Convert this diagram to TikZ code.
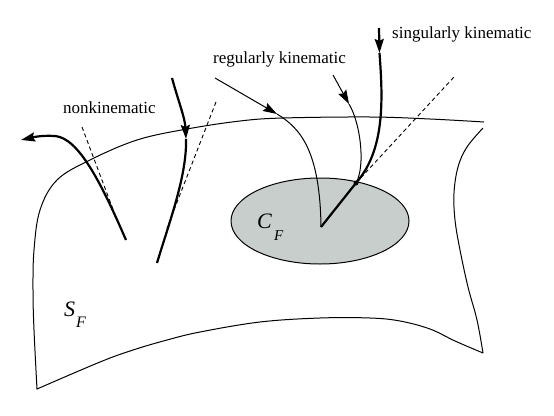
\documentclass[tikz,border=0pt]{standalone}
\usepackage{fontspec}
\setmainfont{Liberation Serif}
\usetikzlibrary{arrows.meta,shapes.geometric}
\definecolor{discgray}{RGB}{199,206,204}
\begin{document}
\begin{tikzpicture}[x=1pt,y=-1pt,
  thinline/.style={line width=1pt},
  thickcurve/.style={line width=2.2pt},
  guide/.style={line width=0.9pt, dash pattern=on 4pt off 3pt},
  tipped/.style={-{Stealth[length=14pt,width=9pt,inset=2pt]}},
  lbl/.style={font=\fontsize{17}{20}\selectfont, inner sep=0pt, anchor=base west}]
\useasboundingbox (0,0) rectangle (554,415);

% disc C_F
\node[ellipse, draw, line width=1pt, fill=discgray, minimum width=178pt, minimum height=86pt, inner sep=0pt] (disc) at (320,221) {};

% surface S_F
\draw[thinline] plot[smooth, tension=0.6] coordinates {(483,353) (455,341) (430,329) (400,321) (370,318) (320,318) (260,322) (200,332) (167,340) (133,350) (100,362) (37,389)}
  -- plot[smooth, tension=0.6] coordinates {(37,389) (34,330) (33,290) (34,250) (40,210) (57,180) (90,160) (137,140) (187,129) (240,121) (283,118) (370,117) (430,119) (484,122)};
\draw[thinline] plot[smooth, tension=0.6] coordinates {(483,128) (467,147) (458,167) (454,193) (455,220) (460,250) (468,287) (477,320) (483,353)};

% key points
\coordinate (n1end) at (126,240);
\coordinate (n1mid) at (55,136);
\coordinate (n1tip) at (21,140);
\coordinate (n2start) at (172,78);
\coordinate (n2tip) at (186,139);
\coordinate (n2end) at (157,263);
\coordinate (r1start) at (215,78);
\coordinate (r1tip) at (277,114);
\coordinate (cusp) at (321,227);
\coordinate (r2start) at (333,75);
\coordinate (r2tip) at (349,104);
\coordinate (sstart) at (379,28);
\coordinate (stip) at (379.5,53);
\coordinate (touch) at (356,183);
\coordinate (d1a) at (82,127);
\coordinate (d1b) at (114,212);
\coordinate (d2a) at (216,102);
\coordinate (d2b) at (167,228);
\coordinate (d3b) at (454,77);

% nonkinematic trajectories
\draw[thickcurve, tipped] (n1end) .. controls (100,180) and (78,138) .. (n1mid)
  .. controls (40,135) and (30,138) .. (n1tip);
\draw[guide] (d1a) -- (d1b);
\draw[thickcurve, tipped] (n2start) .. controls (178,100) and (185,118) .. (n2tip);
\draw[thickcurve] (n2tip) .. controls (187,175) and (170,220) .. (n2end);
\draw[guide] (d2a) -- (d2b);

% regularly kinematic trajectories
\draw[thinline, tipped] (r1start) -- (r1tip);
\draw[thinline] (r1tip) .. controls (300,128) and (320,150) .. (cusp);
\draw[thinline, tipped] (r2start) -- (r2tip);
\draw[thinline] (r2tip) .. controls (360,122) and (366,165) .. (touch);

% singularly kinematic trajectory
\draw[thickcurve, tipped] (sstart) -- (stip);
\draw[thickcurve] (stip) .. controls (383,100) and (385,150) .. (touch) -- (cusp);
\fill (touch) circle (2.5pt);
\draw[guide] (touch) -- (d3b);

% labels
\node[lbl] (reg) at (213,63) {regularly kinematic};
\node[lbl] (sing) at (392,38) {singularly kinematic};
\node[lbl] (non) at (63,113) {nonkinematic};
\node[anchor=base west, inner sep=0pt] (cf) at (257,228) {\fontsize{22}{24}\selectfont\textit{C}\kern2pt\raisebox{-12pt}{\fontsize{15}{16}\selectfont\textit{F}}};
\node[anchor=base west, inner sep=0pt] (sf) at (64,316) {\fontsize{22}{24}\selectfont\textit{S}\kern1pt\raisebox{-11pt}{\fontsize{16}{16}\selectfont\textit{F}}};
\end{tikzpicture}
\end{document}
